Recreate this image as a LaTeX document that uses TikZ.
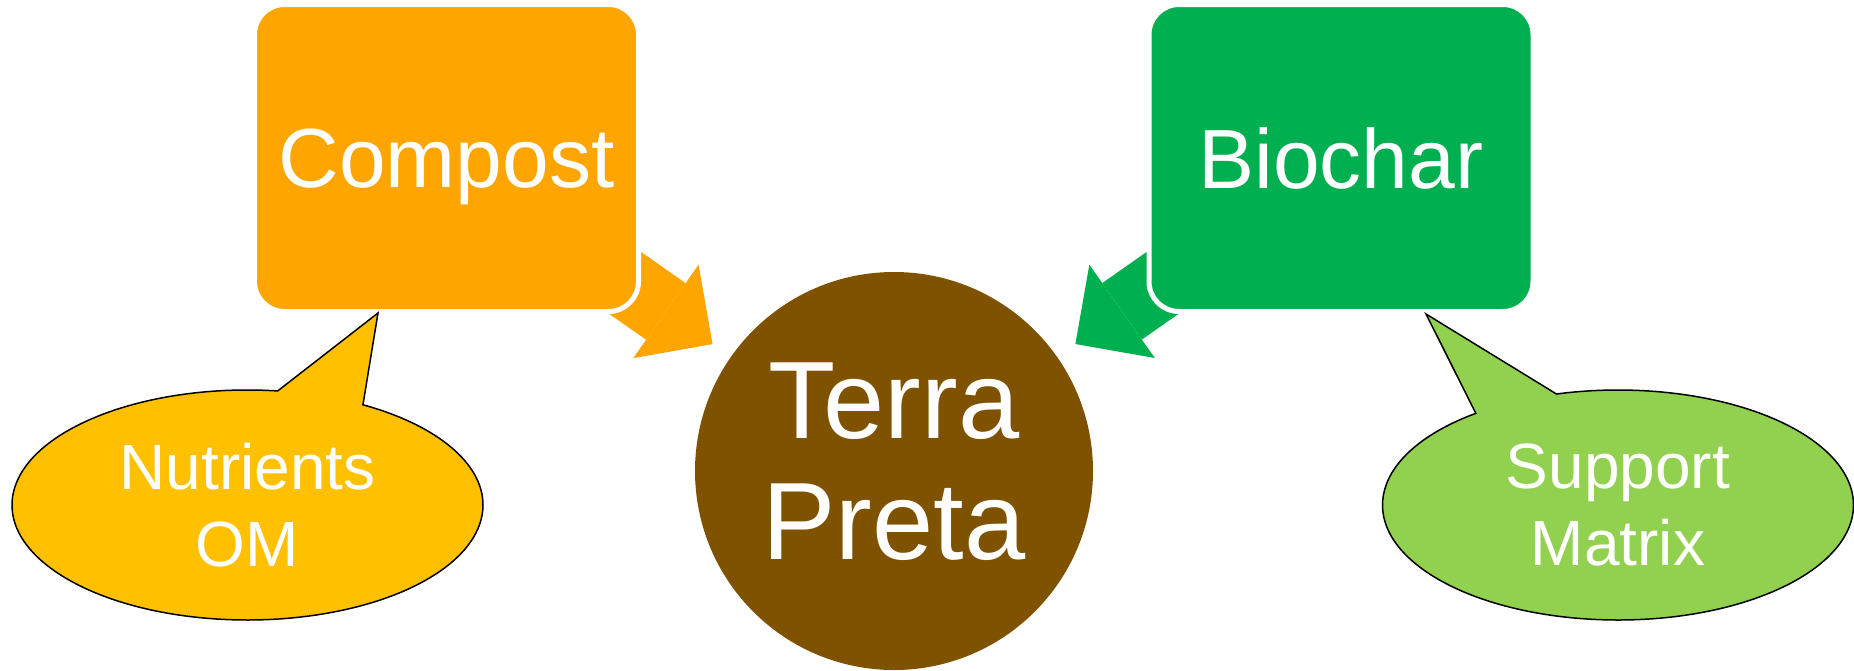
\documentclass[tikz,border=0pt]{standalone}
\usepackage{fontspec}
\setmainfont{Liberation Sans}
\usepackage{tikz}
\usetikzlibrary{shapes.callouts, arrows.meta, backgrounds}
\definecolor{compostorange}{HTML}{FFA500}
\definecolor{biochargreen}{HTML}{00B050}
\definecolor{terrabrown}{HTML}{7F5200}
\definecolor{nutrientyellow}{HTML}{FFC000}
\definecolor{supportgreen}{HTML}{92D050}

\begin{document}
\begin{tikzpicture}[x=0.5pt, y=-0.5pt,
		source/.style={rectangle, rounded corners=15pt, draw=white, line width=2.5pt, minimum width=192pt, minimum height=153.5pt, text=white, text depth=0pt, font=\fontsize{42}{50}\selectfont},
		bubble/.style={ellipse callout, callout pointer arc=22, draw=black, line width=0.75pt, minimum width=235.5pt, minimum height=115pt, inner sep=0pt, text=white, align=center, font=\fontsize{32}{38.5}\selectfont},
		feed/.style={line width=34.5pt, -{Triangle[length=28.5pt, width=57pt, line width=0pt]}, shorten >=11pt}]
	\useasboundingbox (0,0) rectangle (1854,670);
	\node[source, fill=compostorange] (compost) at (446.5,158) {Compost};
	\node[source, fill=biochargreen] (biochar) at (1341,158) {Biochar};
	\node[circle, fill=terrabrown, minimum size=199pt, inner sep=0pt,
		label={[text=white, align=center, yshift=4.75pt, font=\fontsize{55}{60.5}\selectfont]center:Terra\\Preta}] (terra) at (894,471) {};
	\begin{pgfonlayer}{background}
		\draw[feed, compostorange] (compost.center) -- (terra);
		\draw[feed, biochargreen] (biochar.center) -- (terra);
	\end{pgfonlayer}
	\node[bubble, fill=nutrientyellow, callout absolute pointer={(378,313)}] (nutrients) at (247.5,505) {Nutrients\\OM};
	\node[bubble, fill=supportgreen, callout absolute pointer={(1426,314)}] (support) at (1618,505) {Support\\Matrix};
\end{tikzpicture}
\end{document}
